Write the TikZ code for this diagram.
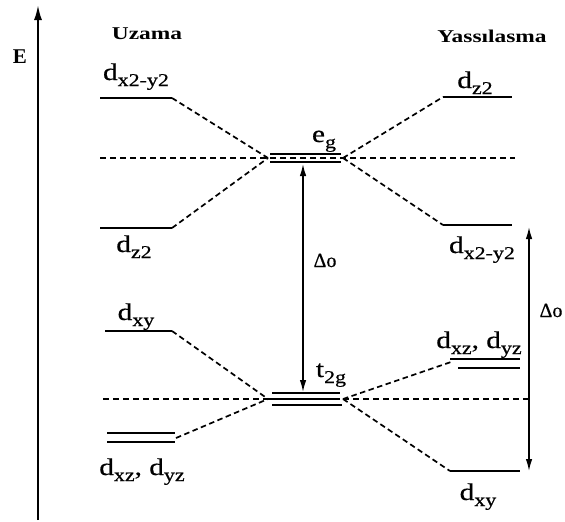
\documentclass[tikz,border=0pt]{standalone}
\usepackage{fontspec}
\setmainfont{Liberation Serif}
\newfontfamily\wide{Liberation Serif}[FakeStretch=1.22,FakeBold=0.6]
\newfontfamily\widet{Liberation Serif}[FakeStretch=1.3]
\newfontfamily\plainb{Liberation Serif}[FakeBold=0.6]
\usetikzlibrary{arrows.meta}
\newcommand\lab[2]{#1\raisebox{-0.25em}{\fontsize{18}{18}\selectfont #2}}
\begin{document}
\begin{tikzpicture}[x=1pt,y=-1pt,
  level/.style={line width=2.1pt},
  conn/.style={dash pattern=on 5.5pt off 3.5pt, line width=1.7pt},
  ref/.style={dash pattern=on 6pt off 4pt, line width=1.4pt},
  lbl/.style={font=\wide\fontsize{24}{26}\selectfont, inner sep=0pt, anchor=base},
  ttl/.style={font=\widet\bfseries\fontsize{18}{20}\selectfont, inner sep=0pt, anchor=base},
  dlt/.style={font=\plainb\fontsize{20}{22}\selectfont, inner sep=0pt, anchor=base},
  dim/.style={line width=1.4pt, {Latex[length=12pt,width=6.5pt]}-{Latex[length=12pt,width=6.5pt]}}]
\useasboundingbox (0,0) rectangle (565,522);
% coordinates
\coordinate (L1a) at (100,98);  \coordinate (L1b) at (172,98);
\coordinate (L2a) at (100,228); \coordinate (L2b) at (172,228);
\coordinate (L3a) at (105,331); \coordinate (L3b) at (172,331);
\coordinate (L4a) at (107,433); \coordinate (L4b) at (175,433);
\coordinate (L4c) at (107,442); \coordinate (L4d) at (175,442);
\coordinate (L4m) at (176,438);
\coordinate (EgTa) at (270,154); \coordinate (EgTb) at (341,154);
\coordinate (EgBa) at (270,162); \coordinate (EgBb) at (341,162);
\coordinate (EgL) at (268,158);  \coordinate (EgR) at (343,158);
\coordinate (TgTa) at (272,393); \coordinate (TgTb) at (340,393);
\coordinate (TgMa) at (268,399); \coordinate (TgMb) at (340,399);
\coordinate (TgBa) at (272,405); \coordinate (TgBb) at (342,405);
\coordinate (TgL) at (268,399);  \coordinate (TgR) at (343,399);
\coordinate (R1a) at (443,97);  \coordinate (R1b) at (512,97);
\coordinate (R2a) at (443,225); \coordinate (R2b) at (512,225);
\coordinate (R3a) at (450,359); \coordinate (R3b) at (520,359);
\coordinate (R3c) at (458,368); \coordinate (R3d) at (520,368);
\coordinate (R3m) at (451,362);
\coordinate (R4a) at (450,471); \coordinate (R4b) at (520,471);
\coordinate (U1a) at (100,158); \coordinate (U1b) at (515,158);
\coordinate (U2a) at (103,399); \coordinate (U2b) at (530,399);
\coordinate (Ea) at (38,520); \coordinate (Eb) at (38,5);
\coordinate (D1a) at (303,164); \coordinate (D1b) at (303,392);
\coordinate (D2a) at (529,227); \coordinate (D2b) at (529,471);
% axis
\draw[line width=2pt, -{Latex[length=15pt,width=8pt]}] (Ea) -- (Eb);
\node[font=\bfseries\fontsize{21}{24}\selectfont, inner sep=0pt, anchor=base] (E) at (20,63) {E};
\node[ttl] (uz) at (147,39) {Uzama};
\node[ttl] (ya) at (492,42) {Yassılasma};
% reference dashed lines
\draw[ref] (U1a) -- (U1b);
\draw[ref] (U2a) -- (U2b);
% levels
\draw[level] (L1a) -- (L1b);
\draw[level] (L2a) -- (L2b);
\draw[level] (L3a) -- (L3b);
\draw[level] (L4a) -- (L4b);
\draw[level] (L4c) -- (L4d);
\draw[level] (EgTa) -- (EgTb);
\draw[level] (EgBa) -- (EgBb);
\draw[level,line width=1.5pt] (TgTa) -- (TgTb);
\draw[level] (TgMa) -- (TgMb);
\draw[level] (TgBa) -- (TgBb);
\draw[level] (R1a) -- (R1b);
\draw[level] (R2a) -- (R2b);
\draw[level] (R3a) -- (R3b);
\draw[level] (R3c) -- (R3d);
\draw[level] (R4a) -- (R4b);
% connectors
\draw[conn] (L1b) -- (EgL);
\draw[conn] (L2b) -- (EgL);
\draw[conn] (EgR) -- (R1a);
\draw[conn] (EgR) -- (R2a);
\draw[conn] (L3b) -- (TgL);
\draw[conn] (L4m) -- (TgL);
\draw[conn] (TgR) -- (R3m);
\draw[conn] (TgR) -- (R4a);
% delta arrows
\draw[dim] (D1a) -- (D1b);
\draw[dim] (D2a) -- (D2b);
\node[dlt] (do1) at (325,267) {Δo};
\node[dlt] (do2) at (551,317) {Δo};
% labels
\node[lbl] (l1) at (136,80) {\lab{d}{x2-y2}};
\node[lbl] (l2) at (134,252) {\lab{d}{z2}};
\node[lbl] (l3) at (136,320) {\lab{d}{xy}};
\node[lbl] (l4) at (142,475) {\lab{d}{xz}, \lab{d}{yz}};
\node[lbl] (eg) at (324,142) {\lab{e}{g}};
\node[lbl] (tg) at (331,377) {\lab{t}{2g}};
\node[lbl] (r1) at (475,88) {\lab{d}{z2}};
\node[lbl] (r2) at (482,253) {\lab{d}{x2-y2}};
\node[lbl] (r3) at (479,348) {\lab{d}{xz}, \lab{d}{yz}};
\node[lbl] (r4) at (478,500) {\lab{d}{xy}};
\end{tikzpicture}
\end{document}
